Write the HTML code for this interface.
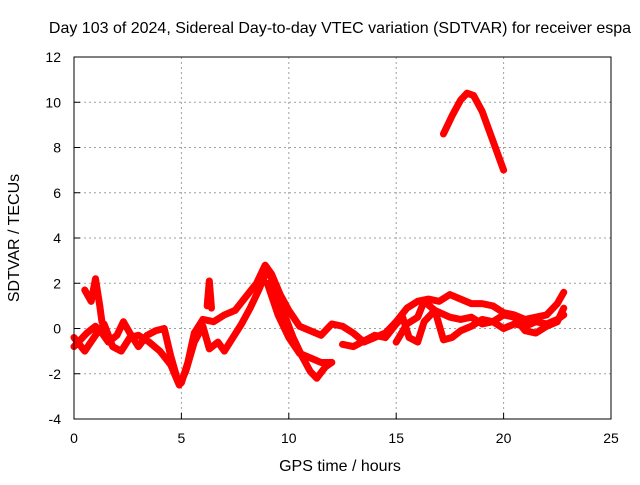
<!DOCTYPE html>
<html><head><meta charset="utf-8"><style>
body{margin:0;background:#fff}
svg text{font-family:"Liberation Sans",sans-serif;font-size:14px;fill:#000}
svg text.big{font-size:16px}
</style></head><body>
<svg width="640" height="480">
<rect width="640" height="480" fill="#fff"/>
<text class="big" x="340" y="33" text-anchor="middle">Day 103 of 2024, Sidereal Day-to-day VTEC variation (SDTVAR) for receiver espa</text>
<g id="grid"></g>
<g id="ticks"></g>
<g id="series"></g>
<rect x="74" y="57" width="537" height="362" fill="none" stroke="#000" stroke-width="1"/>
<text class="big" x="340" y="471" text-anchor="middle">GPS time / hours</text>
<text class="big" transform="translate(19,238) rotate(-90)" text-anchor="middle">SDTVAR / TECUs</text>
</svg>
<script>
const xTicks=[0,5,10,15,20,25];
const yTicks=[-4,-2,0,2,4,6,8,10,12];
const s1=[[0,-0.8],[0.3,-0.5],[0.6,-0.2],[1,0.1],[1.3,-0.2],[1.6,-0.6],[2,-0.3],[2.3,0.3],[2.6,-0.2],[3,-0.8],[3.4,-0.3],[3.8,-0.1],[4.2,0],[4.5,-1.2],[4.8,-2.2],[5,-2.4],[5.3,-1.5],[5.6,-0.2],[6,0.4],[6.5,0.3],[7,0.6],[7.5,0.8],[8,1.4],[8.5,2.0],[8.9,2.8],[9.2,2.4],[9.6,1.5],[10,0.8],[10.5,0.1],[11,-0.1],[11.5,-0.3],[12,0.2],[12.5,0.1],[13,-0.2],[13.5,-0.6],[14,-0.4],[14.5,-0.2],[15,0.3],[15.5,0.9],[16,1.2],[16.5,1.3],[17,1.2],[17.5,1.5],[18,1.3],[18.5,1.1],[19,1.1],[19.5,1.0],[20,0.7],[20.5,0.6],[21,0.4],[21.5,0.5],[22,0.6],[22.5,1.1],[22.8,1.6]];
const s2=[[0,-0.4],[0.5,-1.0],[1,-0.3],[1.4,0.2],[1.8,-0.8],[2.2,-1.0],[2.6,-0.4],[3,-0.3],[3.5,-0.6],[4,-1.0],[4.5,-1.6],[4.9,-2.5],[5.2,-1.9],[5.6,-0.6],[6,0.1],[6.3,-0.9],[6.7,-0.6],[7,-1.0],[7.4,-0.4],[7.8,0.2],[8.2,0.9],[8.6,1.7],[9,2.6],[9.4,1.8],[9.8,0.6],[10.2,-0.4],[10.6,-1.2],[11,-1.9],[11.3,-2.2],[11.7,-1.7],[12,-1.5]];
const s3=[[0.5,1.7],[0.8,1.2],[1,2.2],[1.2,1.0],[1.3,0.3]];
const s4=[[9,2.0],[9.5,0.6],[10,-0.4],[10.5,-1.1],[11,-1.3],[11.5,-1.5],[12,-1.5]];
const s5=[[12.5,-0.7],[13,-0.8],[13.6,-0.5],[14,-0.3],[14.5,-0.4],[15,0.2],[15.3,0.5],[15.6,-0.4],[16,-0.6],[16.3,0.3],[16.8,0.8],[17.5,0.5],[18,0.4],[18.5,0.5],[19,0.2],[19.5,0.3],[20,0.0],[20.5,0.2],[21,0.1],[21.5,0.3],[22,0.2],[22.5,0.4],[22.8,0.6]];
const s6=[[15,-0.6],[15.5,0.2],[16,0.5],[16.3,1.2],[16.8,0.8],[17.2,-0.5],[17.6,-0.4],[18,-0.1],[18.5,0.1],[19,0.4],[19.5,0.3],[20,0.6],[20.5,0.5],[21,-0.1],[21.5,-0.2],[22,0.1],[22.5,0.3],[22.8,0.9]];
const s7=[[17.2,8.6],[17.6,9.4],[18,10.1],[18.3,10.4],[18.6,10.3],[19,9.6],[19.5,8.3],[20,7.0]];
const s8=[[6.2,1.0],[6.3,2.1],[6.4,0.9]];
const allSeries=[s1,s2,s3,s4,s5,s6,s7,s8];
const X=t=>74+t*(537/25);
const Y=v=>419-(v+4)*(362/16);
const NS="http://www.w3.org/2000/svg";
const g=document.getElementById('grid'),tk=document.getElementById('ticks'),sg=document.getElementById('series');
function mk(tag,attrs,parent){const e=document.createElementNS(NS,tag);for(const k in attrs)e.setAttribute(k,attrs[k]);parent.appendChild(e);return e;}
xTicks.forEach(t=>{
  if(t>0&&t<25){const l=mk('line',{x1:X(t),x2:X(t),y1:57,y2:419,stroke:'#a0a0a0','stroke-dasharray':'2,3'},g);
  
  }
  const tx=mk('text',{x:X(t),y:443,'text-anchor':'middle'},tk);tx.textContent=t;
  
  
  mk('line',{x1:X(t),x2:X(t),y1:419,y2:413,stroke:'#000'},tk);
});
yTicks.forEach(v=>{
  if(v>-4&&v<12){const l=mk('line',{x1:74,x2:611,y1:Y(v),y2:Y(v),stroke:'#a0a0a0','stroke-dasharray':'2,3'},g);
  
  }
  const tx=mk('text',{x:61,y:Y(v)+5,'text-anchor':'end'},tk);tx.textContent=v;
  
  
  mk('line',{x1:74,x2:80,y1:Y(v),y2:Y(v),stroke:'#000'},tk);
});
allSeries.forEach(s=>{
  const p=mk('polyline',{points:s.map(d=>X(d[0])+','+Y(d[1])).join(' '),fill:'none',stroke:'#ff0000','stroke-width':7,'stroke-linejoin':'round','stroke-linecap':'round'},sg);
  
  
});
</script>
</body></html>
